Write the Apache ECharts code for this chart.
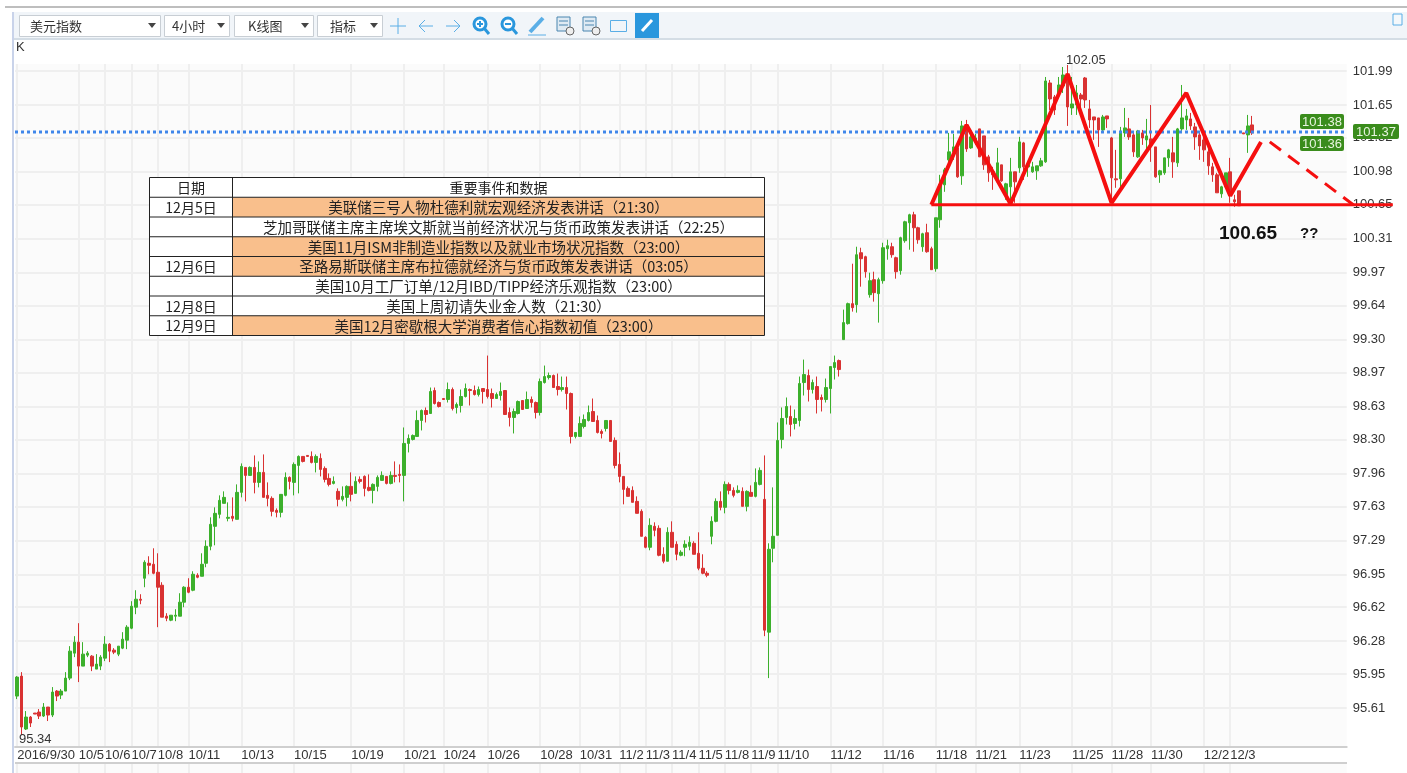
<!DOCTYPE html>
<html>
<head>
<meta charset="utf-8">
<title>美元指数</title>
<script src="https://cdn.jsdelivr.net/npm/echarts@6/dist/echarts.min.js"></script>
<style>
html,body{margin:0;padding:0;background:#fff;}
#main{width:1407px;height:773px;}
</style>
</head>
<body>
<div id="main"></div>
<script>
// 4小时K线，按 i 顺序读图
var openVals = [
95.73,95.93,95.40,95.52,95.56,95.57,95.53,95.62,95.54,95.78,
95.74,95.78,95.91,96.16,96.27,96.03,96.14,96.13,96.00,96.03,
96.11,96.25,96.19,96.15,96.21,96.29,96.41,96.62,96.70,96.91,
97.06,97.05,96.97,96.84,96.53,96.49,96.53,96.53,96.67,96.82,
96.79,96.94,96.93,97.06,97.23,97.43,97.55,97.66,97.51,97.53,
97.50,97.77,98.02,97.94,98.02,97.87,97.97,97.74,97.71,97.59,
97.57,97.74,97.92,97.87,98.04,98.13,98.14,98.13,98.07,98.11,
98.01,97.91,97.86,97.78,97.70,97.72,97.83,97.76,97.90,97.93,
97.82,97.79,97.83,97.89,97.93,97.86,97.94,97.95,97.94,98.26,
98.30,98.33,98.49,98.59,98.56,98.79,98.67,98.71,98.70,98.80,
98.62,98.64,98.73,98.80,98.79,98.75,98.81,98.80,98.76,98.71,
98.74,98.79,98.57,98.52,98.56,98.69,98.61,98.70,98.67,98.57,
98.87,98.92,98.94,98.83,98.80,98.82,98.76,98.33,98.33,98.43,
98.49,98.58,98.49,98.38,98.41,98.49,98.29,98.05,97.93,97.81,
97.79,97.68,97.58,97.32,97.22,97.43,97.41,97.15,97.08,97.37,
97.25,97.14,97.22,97.23,97.26,97.16,97.01,96.96,97.33,97.48,
97.68,97.62,97.85,97.79,97.77,97.78,97.63,97.77,97.73,97.85,
97.70,96.37,97.21,97.34,98.30,98.52,98.53,98.46,98.49,98.87,
98.94,98.80,98.83,98.72,98.70,98.81,99.02,99.09,99.30,99.46,
99.66,99.65,100.17,100.13,99.75,99.90,99.76,99.89,100.21,100.23,
100.12,99.99,100.29,100.47,100.55,100.42,100.23,100.37,100.21,100.01,
100.50,100.85,101.10,101.18,101.22,100.94,101.45,101.22,101.28,101.41,
101.34,101.13,100.98,100.88,101.05,100.75,100.83,100.98,101.02,101.27,
101.03,100.98,100.99,101.04,101.08,101.87,101.73,101.77,101.84,101.96,
101.62,101.65,101.75,101.92,101.61,101.53,101.52,101.40,101.54,101.32,
100.91,100.91,101.37,101.41,101.35,101.13,101.37,101.30,101.31,101.23,
100.95,100.97,101.12,101.17,101.07,101.41,101.50,101.51,101.43,101.35,
101.30,101.18,101.03,100.95,100.76,100.83,100.98,100.70,100.79,101.37,101.35,101.45
];
var closeVals = [
95.92,95.42,95.52,95.46,95.55,95.53,95.62,95.54,95.77,95.73,
95.78,95.91,96.18,96.27,96.03,96.15,96.16,96.03,96.05,96.12,
96.25,96.18,96.17,96.23,96.30,96.42,96.63,96.70,96.69,97.07,
97.04,96.96,96.82,96.52,96.51,96.54,96.54,96.67,96.82,96.77,
96.95,96.92,97.05,97.23,97.45,97.56,97.69,97.72,97.52,97.51,
97.77,98.03,97.94,98.02,97.87,97.97,97.72,97.71,97.58,97.57,
97.75,97.92,97.88,98.05,98.13,98.08,98.13,98.07,98.13,98.00,
97.90,97.85,97.88,97.70,97.73,97.83,97.75,97.88,97.88,97.81,
97.79,97.85,97.92,97.94,97.86,97.94,97.93,97.94,98.26,98.31,
98.34,98.49,98.59,98.55,98.78,98.66,98.63,98.70,98.80,98.61,
98.65,98.73,98.81,98.79,98.75,98.80,98.78,98.73,98.71,98.75,
98.78,98.55,98.52,98.58,98.68,98.60,98.70,98.67,98.57,98.88,
98.93,98.94,98.82,98.80,98.82,98.76,98.33,98.37,98.46,98.50,
98.57,98.48,98.37,98.36,98.49,98.28,98.04,97.93,97.80,97.73,
97.67,97.56,97.33,97.22,97.44,97.39,97.14,97.08,97.37,97.22,
97.15,97.17,97.25,97.27,97.15,97.01,96.96,96.94,97.48,97.68,
97.62,97.85,97.79,97.74,97.79,97.63,97.78,97.73,97.87,97.99,
96.39,97.20,97.33,98.29,98.51,98.63,98.45,98.51,98.86,98.95,
98.80,98.87,98.70,98.70,98.82,99.03,99.07,99.00,99.47,99.66,
99.62,100.15,100.11,99.98,99.89,99.77,99.90,100.22,100.24,100.15,
99.98,100.32,100.48,100.55,100.42,100.30,100.36,100.18,100.00,100.52,
100.85,101.00,101.18,101.23,100.93,101.44,101.21,101.33,101.32,101.13,
101.05,100.97,100.95,101.07,100.89,100.86,100.98,100.88,101.28,101.03,
101.05,101.03,101.04,101.09,101.89,101.71,101.60,101.85,101.95,101.63,
101.66,101.77,101.71,101.70,101.50,101.50,101.40,101.53,101.51,100.92,
100.90,101.37,101.42,101.33,101.18,101.39,101.32,101.34,101.25,100.93,
100.99,101.12,101.20,101.08,101.41,101.52,101.54,101.44,101.33,101.24,
101.20,101.04,100.95,100.77,100.83,100.97,100.75,100.68,100.64,101.36,101.44,101.37
];
var highVals = [
95.93,95.97,95.58,95.53,95.56,95.60,95.66,95.62,95.82,95.79,
95.80,95.97,96.23,96.33,96.46,96.27,96.18,96.14,96.15,96.14,
96.33,96.26,96.21,96.23,96.37,96.44,96.68,96.79,96.75,97.09,
97.13,97.21,97.16,96.87,96.56,96.54,96.60,96.76,96.83,96.91,
96.98,96.96,97.16,97.29,97.52,97.62,97.74,97.78,97.67,97.72,
97.85,98.06,98.02,98.03,98.14,98.08,98.15,97.87,97.73,97.61,
97.75,97.97,97.93,98.07,98.14,98.13,98.14,98.18,98.15,98.16,
98.03,97.96,97.93,97.81,97.83,97.84,97.97,97.93,97.93,97.94,
97.95,97.86,97.94,97.98,97.93,97.98,98.08,98.05,98.42,98.35,
98.35,98.59,98.60,98.62,98.82,98.82,98.68,98.71,98.87,98.82,
98.67,98.80,98.86,98.81,98.84,98.83,98.81,99.14,98.81,98.77,
98.87,98.79,98.62,98.61,98.69,98.69,98.78,98.73,98.68,98.91,
99.04,98.97,98.95,98.96,98.93,98.93,98.77,98.37,98.53,98.55,
98.64,98.71,98.54,98.40,98.49,98.49,98.32,98.17,97.93,97.83,
97.83,97.73,97.60,97.33,97.51,97.47,97.44,97.22,97.42,97.48,
97.28,97.19,97.29,97.33,97.28,97.37,97.15,96.98,97.53,97.71,
97.78,97.88,97.87,97.82,97.84,97.82,97.79,97.84,98.01,98.02,
98.14,97.26,97.82,98.47,98.62,98.72,98.64,98.60,98.93,99.10,
99.00,98.90,98.93,98.75,98.91,99.03,99.14,99.10,99.60,99.67,
100.06,100.23,100.22,100.14,99.97,99.98,99.92,100.27,100.30,100.27,
100.13,100.33,100.49,100.56,100.58,100.43,100.37,100.46,100.23,100.52,
100.95,101.02,101.37,101.36,101.23,101.49,101.50,101.35,101.36,101.41,
101.34,101.15,101.03,101.22,101.05,100.87,101.12,100.98,101.33,101.28,
101.07,101.08,101.04,101.12,101.93,101.90,101.75,101.93,102.03,102.05,
101.93,101.85,101.77,101.93,101.70,101.53,101.52,101.55,101.54,101.33,
101.20,101.43,101.62,101.52,101.37,101.40,101.40,101.51,101.65,101.23,
101.00,101.12,101.21,101.33,101.42,101.85,101.61,101.57,101.47,101.37,
101.34,101.23,101.07,100.97,100.84,100.97,101.12,100.75,100.79,101.37,101.55,101.54
];
var lowVals = [
95.70,95.34,95.39,95.42,95.55,95.50,95.52,95.48,95.52,95.68,
95.70,95.78,95.89,96.12,95.87,96.03,96.12,95.98,96.00,95.99,
96.08,96.07,96.15,96.13,96.20,96.20,96.40,96.55,96.65,96.82,
96.95,96.95,96.42,96.52,96.48,96.48,96.48,96.53,96.62,96.76,
96.78,96.91,96.93,97.02,97.19,97.24,97.51,97.66,97.48,97.48,
97.50,97.72,97.68,97.94,97.76,97.82,97.72,97.63,97.53,97.52,
97.52,97.73,97.80,97.74,97.76,98.07,98.13,98.06,97.97,97.93,
97.87,97.83,97.85,97.63,97.68,97.63,97.68,97.76,97.86,97.73,
97.78,97.66,97.78,97.89,97.85,97.85,97.87,97.87,97.68,98.17,
98.29,98.33,98.39,98.47,98.56,98.65,98.62,98.70,98.67,98.59,
98.56,98.57,98.72,98.64,98.74,98.73,98.66,98.71,98.62,98.71,
98.69,98.55,98.43,98.36,98.55,98.60,98.61,98.62,98.51,98.54,
98.86,98.90,98.82,98.74,98.78,98.60,98.26,98.31,98.33,98.41,
98.48,98.48,98.36,98.31,98.38,98.28,98.01,97.87,97.65,97.73,
97.67,97.56,97.33,97.21,97.19,97.33,97.13,97.06,97.08,97.22,
97.09,97.13,97.13,97.19,97.15,96.99,96.95,96.92,97.25,97.47,
97.59,97.56,97.75,97.72,97.76,97.63,97.58,97.73,97.72,97.84,
96.33,95.91,97.07,97.34,98.21,98.45,98.33,98.40,98.43,98.74,
98.68,98.76,98.56,98.58,98.67,98.56,98.90,98.93,99.30,99.45,
99.58,99.57,99.83,99.92,99.72,99.68,99.47,99.86,100.10,100.12,
99.91,99.95,100.27,100.20,100.18,100.26,100.18,100.17,100.00,99.98,
100.42,100.78,101.00,101.10,100.92,100.85,101.18,101.21,101.25,101.13,
101.00,100.88,100.80,100.88,100.88,100.70,100.67,100.67,100.97,100.90,
100.93,100.97,100.90,101.03,101.07,101.60,101.55,101.73,101.77,101.44,
101.55,101.55,101.55,101.62,101.42,101.30,101.23,101.39,101.42,100.67,
100.82,100.82,101.33,101.30,101.13,101.12,101.25,101.18,101.08,100.92,
100.87,100.95,101.03,100.92,101.03,101.39,101.40,101.40,101.20,101.10,
101.08,100.95,100.88,100.77,100.72,100.83,100.67,100.63,100.64,101.36,101.17,101.35
];

// 横轴日期及其所在的K线序号
var dateLabels = ['2016/9/30','10/5','10/6','10/7','10/8','10/11','10/13','10/15','10/19','10/21','10/24','10/26','10/28','10/31','11/2','11/3','11/4','11/5','11/8','11/9','11/10','11/12','11/16','11/18','11/21','11/23','11/25','11/28','11/30','12/2','12/3'];
var dateIndex = [0,14,20,26,32,39,51,63,76,88,97,107,119,128,137,143,149,155,161,167,173,185,197,209,218,228,240,249,258,270,276];
var slotCount = 303;

var yTicks = [101.99,101.65,101.32,100.98,100.65,100.31,99.97,99.64,99.30,98.97,98.63,98.30,97.96,97.63,97.29,96.95,96.62,96.28,95.95,95.61];
var yMin = 95.22, yMax = 102.06;

// 画上去的形态线，横坐标用K线序号
var patternIdx = [208,216,226,239,249,266,276,283];
var patternVals = [100.65,101.45,100.66,101.96,100.67,101.77,100.74,101.28];
var neckIdx = [208,313];
var neckVals = [100.65,100.65];
var dashIdx = [285,304];
var dashVals = [101.28,100.65];
var lastPriceIdx = [-0.5,302.5];
var lastPriceVals = [101.38,101.38];

var tableDates = ['12月5日','','','12月6日','','12月8日','12月9日'];
var tableEvents = [
'美联储三号人物杜德利就宏观经济发表讲话（21:30）',
'芝加哥联储主席主席埃文斯就当前经济状况与货币政策发表讲话（22:25）',
'美国11月ISM非制造业指数以及就业市场状况指数（23:00）',
'圣路易斯联储主席布拉德就经济与货币政策发表讲话（03:05）',
'美国10月工厂订单/12月IBD/TIPP经济乐观指数（23:00）',
'美国上周初请失业金人数（21:30）',
'美国12月密歇根大学消费者信心指数初值（23:00）'
];
var tableOrange = [1,0,1,1,0,0,1];

var categories = [];
for (var i = 0; i < slotCount; i++) {
	var at = dateIndex.indexOf(i);
	categories.push(at >= 0 ? dateLabels[at] : '');
}
var candleData = [];
for (var i = 0; i < openVals.length; i++) {
	candleData.push([openVals[i], closeVals[i], lowVals[i], highVals[i]]);
}
function zipXY(xs, ys) {
	var out = [];
	for (var i = 0; i < xs.length; i++) out.push([xs[i], ys[i]]);
	return out;
}
function isDateTick(i) {
	return dateIndex.indexOf(i) >= 0;
}

var FONT = '"Liberation Sans", Arial, sans-serif';
var CJK = '"Noto Sans CJK SC", sans-serif';
var slotWidth = 4.395;
var graphics = [];
function addRect(x, y, w, h, fill, stroke) {
	graphics.push({type:'rect', z:20, silent:true, shape:{x:x,y:y,width:w,height:h}, style:{fill:fill, stroke:stroke||null, lineWidth:stroke?1:0}});
}
function addLine(x1, y1, x2, y2, color, width) {
	graphics.push({type:'line', z:21, silent:true, shape:{x1:x1,y1:y1,x2:x2,y2:y2}, style:{stroke:color, lineWidth:width||1}});
}
function addText(t, x, y, font, fill, align) {
	graphics.push({type:'text', z:22, silent:true, style:{text:t, x:x, y:y, font:font, fill:fill, textAlign:align||'left', textVerticalAlign:'middle'}});
}
function addTri(x, y) {
	graphics.push({type:'polygon', z:22, silent:true, shape:{points:[[x-4,y-2],[x+4,y-2],[x,y+3]]}, style:{fill:'#444'}});
}
function addTag(t, x, y, w, h) {
	graphics.push({type:'rect', z:20, silent:true, shape:{x:x,y:y,width:w,height:h,r:2}, style:{fill:'#3a8c1c'}});
	addText(t, x+w/2, y+h/2+0.5, '13px '+FONT, '#e8f5df', 'center');
}

// 外框和工具条
addLine(5, 7, 1407, 7, '#a8a8a8', 1.5);
addRect(12, 12, 1395, 26, '#f1f5f9');
addLine(12, 39, 1407, 39, '#c6d2dc', 1.5);
addLine(13, 12, 13, 773, '#c9d3ea', 2);
addLine(15, 763, 1347, 763, '#cfcfcf', 2);
var selectBoxes = [[19,141,'美元指数',30],[164,65,'4小时',172],[234,79,'K线图',248],[317,65,'指标',330]];
for (var i = 0; i < selectBoxes.length; i++) {
	var b = selectBoxes[i];
	addRect(b[0]+0.5, 15.5, b[1], 21, '#fff', '#c8ced4');
	addText(b[2], b[3], 26, '13px '+CJK, '#333');
	addTri(b[0]+b[1]-8, 25);
}
var ICON = '#2a97dd';
addLine(398, 18, 398, 34, '#5aaee6', 1); addLine(390, 26, 406, 26, '#5aaee6', 1);
addLine(419, 26, 433, 26, '#5aaee6', 1); addLine(419, 26, 425, 20, '#5aaee6', 1); addLine(419, 26, 425, 32, '#5aaee6', 1);
addLine(446, 26, 460, 26, '#5aaee6', 1); addLine(460, 26, 454, 20, '#5aaee6', 1); addLine(460, 26, 454, 32, '#5aaee6', 1);
function addLens(x, plus) {
	graphics.push({type:'circle', z:21, silent:true, shape:{cx:x,cy:24,r:6}, style:{fill:'#fff', stroke:ICON, lineWidth:3}});
	addLine(x+4, 28, x+9, 34, ICON, 3);
	addLine(x-3, 24, x+3, 24, ICON, 2);
	if (plus) addLine(x, 21, x, 27, ICON, 2);
}
addLens(480, true);
addLens(508, false);
addLine(530, 32, 543, 18, '#5aaee6', 4);
addLine(528, 35, 546, 35, '#5aaee6', 1);
addRect(557, 17, 13, 14, '#dfeaf3', '#4a86b0');
addLine(559, 21, 568, 21, '#4a86b0', 1); addLine(559, 25, 568, 25, '#4a86b0', 1);
graphics.push({type:'circle', z:21, silent:true, shape:{cx:570,cy:31,r:4}, style:{fill:'#eee', stroke:'#666', lineWidth:1}});
addRect(583, 17, 13, 14, '#dfeaf3', '#4a86b0');
addLine(585, 21, 594, 21, '#4a86b0', 1); addLine(585, 25, 594, 25, '#4a86b0', 1);
graphics.push({type:'circle', z:21, silent:true, shape:{cx:596,cy:31,r:4}, style:{fill:'#eee', stroke:'#666', lineWidth:1}});
addRect(610.5, 20.5, 16, 11, '#f1f5f9', '#5aaee6');
addRect(635, 13, 24, 25, ICON);
addLine(642, 31, 652, 20, '#fff', 3);
addRect(1393, 14, 9, 11, '#f4f8fb', '#5aaee6');
addText('K', 16, 47, '13px '+FONT, '#333');

// 事件表
var tLeft = 149.5, tSep = 232.5, tRight = 764.5, tTop = 177.5, rowH = 19.75;
addRect(tLeft, tTop, tRight-tLeft, rowH*8, '#fff');
addText('日期', (tLeft+tSep)/2, tTop+rowH/2+0.5, '14px '+CJK, '#222', 'center');
addText('重要事件和数据', (tSep+tRight)/2, tTop+rowH/2+0.5, '14px '+CJK, '#222', 'center');
for (var i = 0; i < tableEvents.length; i++) {
	var ry = tTop + rowH*(i+1);
	if (tableOrange[i]) addRect(tSep, ry, tRight-tSep, rowH, '#f9bf8c');
	if (tableDates[i]) addText(tableDates[i], (tLeft+tSep)/2, ry+rowH/2+0.5, '14px '+CJK, '#222', 'center');
	addText(tableEvents[i], (tSep+tRight)/2, ry+rowH/2+0.5, '14.5px '+CJK, '#222', 'center');
}
for (var i = 0; i <= 8; i++) addLine(tLeft, tTop+rowH*i, tRight, tTop+rowH*i, '#222', 1);
addLine(tLeft, tTop, tLeft, tTop+rowH*8, '#222', 1);
addLine(tSep, tTop, tSep, tTop+rowH*8, '#222', 1);
addLine(tRight, tTop, tRight, tTop+rowH*8, '#222', 1);

// 标注文字和价格标签
addText('102.05', 1066, 60, '13px '+FONT, '#333');
addText('95.34', 19, 739, '13px '+FONT, '#333');
addText('100.65', 1219, 234, 'bold 19px '+FONT, '#111');
addText('??', 1300, 234, 'bold 15px '+FONT, '#111');
addTag('101.38', 1300, 114, 44, 15);
addTag('101.36', 1300, 136, 44, 15);
addTag('101.37', 1353, 124, 46, 15);

var chart = echarts.init(document.getElementById('main'));
chart.setOption({
	animation: false,
	backgroundColor: '#fff',
	grid: [
		{left:15, top:64, width:1331.7, height:683, show:true, backgroundColor:'#fbfbfb', borderWidth:0},
		// 形态线可以画到价格轴外面，单独一个透明的 grid
		{left:15, top:64, width:1385, height:683, show:false},
		// 日期条下面露出来的竖线
		{left:15, top:764, width:1331.7, height:9, show:true, backgroundColor:'#fbfbfb', borderWidth:0}
	],
	xAxis: [
		{
			type: 'category',
			gridIndex: 0,
			data: categories,
			boundaryGap: true,
			axisLine: {show:true, lineStyle:{color:'#cfcfcf', width:2}},
			axisTick: {show:false, alignWithLabel:true, interval:function(i){return isDateTick(i);}},
			axisLabel: {
				interval: function(i){return isDateTick(i);},
				align: 'left',
				margin: 2,
				color: '#333',
				fontSize: 13,
				fontFamily: FONT
			},
			splitLine: {show:true, alignWithLabel:true, interval:function(i){return isDateTick(i);}, lineStyle:{color:'#efefef', width:2}}
		},
		{
			type: 'value',
			gridIndex: 1,
			min: -0.5,
			max: -0.5 + 1385/slotWidth,
			show: false
		},
		{
			type: 'category',
			gridIndex: 2,
			data: categories,
			boundaryGap: true,
			axisLine: {show:false},
			axisTick: {show:false, alignWithLabel:true, interval:function(i){return isDateTick(i);}},
			axisLabel: {show:false},
			splitLine: {show:true, alignWithLabel:true, interval:function(i){return isDateTick(i);}, lineStyle:{color:'#efefef', width:2}}
		}
	],
	yAxis: [
		{
			type: 'value',
			gridIndex: 0,
			position: 'right',
			min: yMin,
			max: yMax,
			axisLine: {show:false},
			axisTick: {show:false, customValues:yTicks},
			axisLabel: {
				customValues: yTicks,
				color: '#333',
				fontSize: 13,
				fontFamily: FONT,
				margin: 6,
				formatter: function(v){return v.toFixed(2);}
			},
			splitLine: {show:true, lineStyle:{color:'#efefef', width:2}}
		},
		{type:'value', gridIndex:1, min:yMin, max:yMax, show:false},
		{type:'value', gridIndex:2, min:0, max:1, show:false}
	],
	series: [
		{
			type: 'candlestick',
			xAxisIndex: 0,
			yAxisIndex: 0,
			data: candleData,
			barWidth: 3,
			z: 3,
			itemStyle: {color:'#3cb02c', color0:'#d93232', borderColor:'#3cb02c', borderColor0:'#d93232', borderWidth:1}
		},
		{
			name: 'last',
			type: 'line',
			xAxisIndex: 1,
			yAxisIndex: 1,
			data: zipXY(lastPriceIdx, lastPriceVals),
			symbol: 'none',
			z: 4,
			lineStyle: {color:'#3f86ea', width:3, type:[3,3]}
		},
		{
			name: 'pattern',
			type: 'line',
			xAxisIndex: 1,
			yAxisIndex: 1,
			data: zipXY(patternIdx, patternVals),
			symbol: 'none',
			z: 5,
			lineStyle: {color:'#f50f0f', width:4}
		},
		{
			name: 'neck',
			type: 'line',
			xAxisIndex: 1,
			yAxisIndex: 1,
			data: zipXY(neckIdx, neckVals),
			symbol: 'none',
			z: 5,
			lineStyle: {color:'#f50f0f', width:3}
		},
		{
			name: 'dash',
			type: 'line',
			xAxisIndex: 1,
			yAxisIndex: 1,
			data: zipXY(dashIdx, dashVals),
			symbol: 'none',
			z: 5,
			lineStyle: {color:'#f50f0f', width:3, type:[14,9]}
		}
	],
	graphic: graphics
});
</script>
</body>
</html>
